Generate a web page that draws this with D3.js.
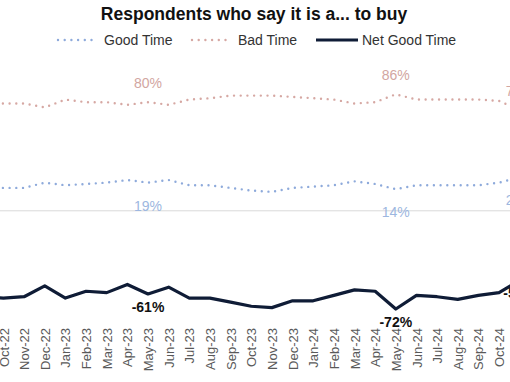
<!DOCTYPE html>
<html><head><meta charset="utf-8">
<script src="https://cdn.jsdelivr.net/npm/d3@7"></script>
<style>body{margin:0;background:#fff}svg{display:block}text{font-family:"Liberation Sans",Arial,sans-serif}</style>
</head><body><svg id="chart" width="510" height="382"></svg>
<script>
const months = ["Sep-22","Oct-22","Nov-22","Dec-22","Jan-23","Feb-23","Mar-23","Apr-23","May-23","Jun-23","Jul-23","Aug-23","Sep-23","Oct-23","Nov-23","Dec-23","Jan-24","Feb-24","Mar-24","Apr-24","May-24","Jun-24","Jul-24","Aug-24","Sep-24","Oct-24","Nov-24"];
const goodTime = [15,15,15,19,17,18,19,21,19,21,17,17,15,13,12,15,16,17,20,18,14,17,17,17,17,19,23];
const badTime = [79,79,79,76,82,80,80,78,80,78,82,83,85,85,85,84,83,82,79,80,86,82,82,82,82,81,74];
const netGoodTime = [-63,-64,-63,-55,-64,-59,-60,-54,-61,-56,-64,-64,-67,-70,-71,-66,-66,-62,-58,-59,-72,-62,-63,-65,-62,-60,-51];
const labeledMonths = ["May-23","May-24","Nov-24"];
const seriesNames = ["Good Time","Bad Time","Net Good Time"];
const titleText = "Respondents who say it is a... to buy";

const colGood = "#8eaadb", colBad = "#d6a8a3", colNet = "#0f1c36";
const colGoodLbl = "#9db7e0", colBadLbl = "#d2a6a1";

const svg = d3.select("#chart");
const x = d3.scalePoint().domain(months).range([-17.2, 519.7]);
const yPct = d3.scaleLinear().domain([0, 100]).range([207.7, 75.8]);
const yNet = d3.scaleLinear().domain([-80, 0]).range([319.9, 210.8]);

// zero line
svg.append("line").attr("x1", 0).attr("x2", 510)
  .attr("y1", yNet(0)).attr("y2", yNet(0))
  .attr("stroke", "#d9d9d9").attr("stroke-width", 1);

// x axis labels
const xAxis = d3.axisBottom(x).tickSize(0).tickPadding(0);
const gx = svg.append("g").attr("transform", "translate(0,328)").call(xAxis);
gx.select(".domain").remove();
gx.selectAll("text")
  .attr("transform", "rotate(-90)")
  .attr("x", 0).attr("y", 0).attr("dy", "0.35em")
  .attr("text-anchor", "end")
  .attr("font-size", 13)
  .attr("font-family", "Liberation Sans, Arial, sans-serif")
  .attr("fill", "#595959");

const linePct = d3.line().x((d, i) => x(months[i])).y(d => yPct(d));
const lineNet = d3.line().x((d, i) => x(months[i])).y(d => yNet(d));

svg.append("path").datum(badTime).attr("d", linePct)
  .attr("fill", "none").attr("stroke", colBad).attr("stroke-width", 2.4)
  .attr("stroke-linecap", "round").attr("stroke-dasharray", "0 6.7");
svg.append("path").datum(goodTime).attr("d", linePct)
  .attr("fill", "none").attr("stroke", colGood).attr("stroke-width", 2.4)
  .attr("stroke-linecap", "round").attr("stroke-dasharray", "0 6.7");
svg.append("path").datum(netGoodTime).attr("d", lineNet)
  .attr("fill", "none").attr("stroke", colNet).attr("stroke-width", 3.2)
  .attr("stroke-linejoin", "round");

// data labels
labeledMonths.forEach(m => {
  const i = months.indexOf(m);
  svg.append("text").attr("x", x(m)).attr("y", yPct(badTime[i]) - 14)
    .attr("text-anchor", "middle").attr("font-size", 14).attr("fill", colBadLbl)
    .text(badTime[i] + "%");
  svg.append("text").attr("x", x(m)).attr("y", yPct(goodTime[i]) + 28)
    .attr("text-anchor", "middle").attr("font-size", 14).attr("fill", colGoodLbl)
    .text(goodTime[i] + "%");
  svg.append("text").attr("x", x(m)).attr("y", yNet(netGoodTime[i]) + 18)
    .attr("text-anchor", "middle").attr("font-size", 14).attr("font-weight", "bold").attr("fill", "#111")
    .text(netGoodTime[i] + "%");
});

// title
svg.append("text").attr("x", 254).attr("y", 19.5).attr("text-anchor", "middle")
  .attr("font-size", 17.5).attr("font-weight", "bold").attr("fill", "#111").text(titleText);

// legend
const legendItems = [
  {name: seriesNames[0], x0: 58, x1: 97, tx: 104, color: colGood, dotted: true},
  {name: seriesNames[1], x0: 192, x1: 231, tx: 238, color: colBad, dotted: true},
  {name: seriesNames[2], x0: 316, x1: 358, tx: 362, color: colNet, dotted: false}
];
legendItems.forEach(it => {
  const l = svg.append("line").attr("x1", it.x0).attr("x2", it.x1).attr("y1", 40).attr("y2", 40)
    .attr("stroke", it.color);
  if (it.dotted) l.attr("stroke-width", 2.4).attr("stroke-linecap", "round").attr("stroke-dasharray", "0 6.7");
  else l.attr("stroke-width", 3.2);
  svg.append("text").attr("x", it.tx).attr("y", 45).attr("font-size", 14).attr("fill", "#333").text(it.name);
});
</script></body></html>
